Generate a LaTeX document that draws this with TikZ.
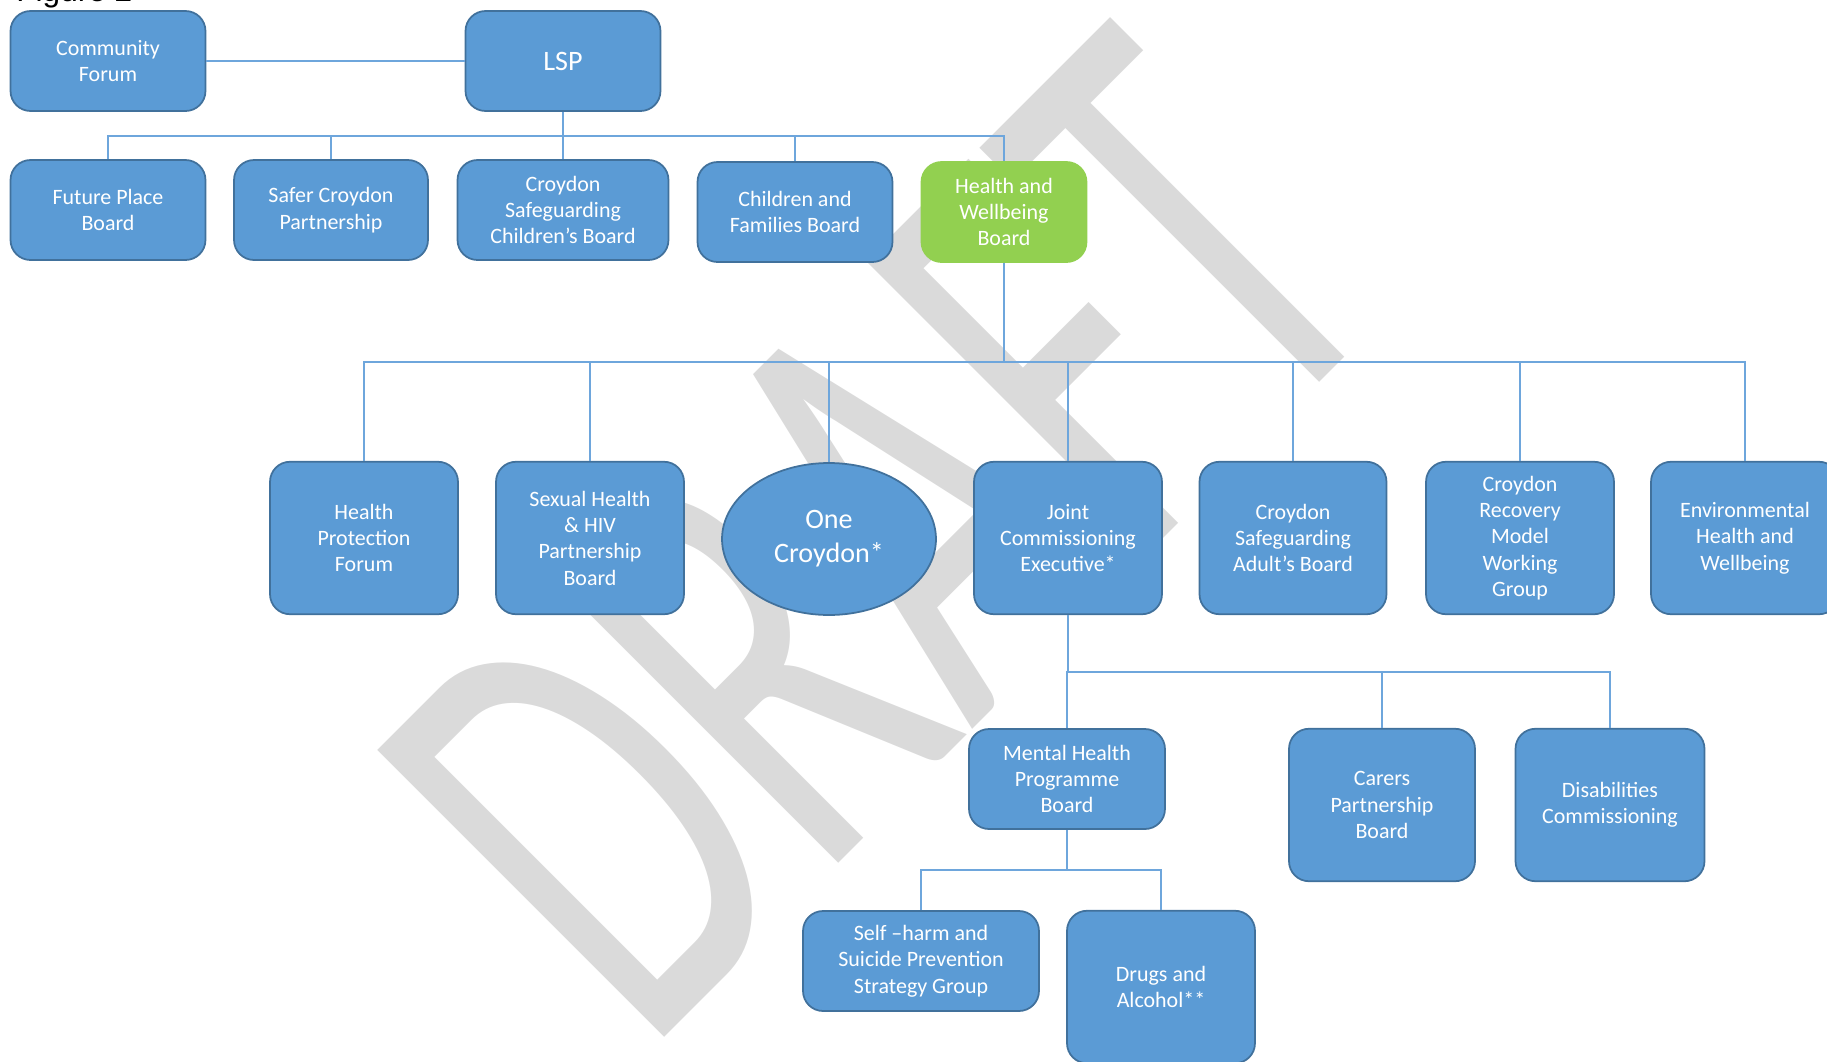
\documentclass[tikz,border=0pt]{standalone}
\usepackage{fontspec}
\setmainfont{Carlito}
\newfontfamily\figfont{Liberation Sans}
\usetikzlibrary{shapes.geometric}

\definecolor{boxblue}{RGB}{91,155,213}
\definecolor{boxedge}{RGB}{65,113,156}
\definecolor{hwbgreen}{RGB}{146,208,80}
\definecolor{linkblue}{RGB}{110,166,220}
\definecolor{wmgray}{RGB}{218,218,218}

\tikzset{board/.style={draw=boxedge,fill=boxblue,line width=1pt,rounded corners=0.4cm,
		text=white,align=center,inner sep=2pt,font=\fontsize{12.5}{15}\selectfont},
	short/.style={minimum height=2cm},
	tall/.style={minimum height=3.05cm},
	link/.style={draw=linkblue,line width=0.6pt},
	watermark/.style={text=wmgray,inner sep=0pt,font=\fontsize{360}{360}\selectfont}}

\begin{document}
\begin{tikzpicture}[x=0.02cm,y=-0.02cm]
	 \useasboundingbox (0,0) rectangle (1827,1062);
	 \node[watermark,rotate=45,xscale=0.63,anchor=base west](draft) at (645,1057){DRAFT};
	 \node[anchor=base west,inner sep=0pt,font=\figfont\fontsize{18}{20}\selectfont](figlabel) at (16,1){Figure 2};

	 \node[board,short,minimum width=3.9cm](forum) at (108,61){Community\\Forum};
	 \node[board,short,minimum width=3.9cm,font=\fontsize{16}{19}\selectfont](lsp) at (563,61){LSP};

	 \node[board,short,minimum width=3.9cm](future) at (108,210){Future Place\\Board};
	 \node[board,short,minimum width=3.88cm](safer) at (331,210){Safer Croydon\\Partnership};
	 \node[board,short,minimum width=4.22cm](cscb) at (563,210){Croydon\\Safeguarding\\Children’s Board};
	 \node[board,short,minimum width=3.9cm](families) at (795,212){Children and\\Families Board};
	 \node[board,short,minimum width=3.3cm,fill=hwbgreen,draw=hwbgreen](hwb) at (1004,212){Health and\\Wellbeing\\Board};

	 \node[board,tall,minimum width=3.76cm](hpf) at (364,538){Health\\Protection\\Forum};
	 \node[board,tall,minimum width=3.76cm](sexual) at (590,538){Sexual Health\\\& HIV\\Partnership\\Board};
	 \node[board,ellipse,minimum width=4.28cm,minimum height=3.04cm,font=\fontsize{16}{19.5}\selectfont](onecroydon) at (829,539){One\\Croydon*};
	 \node[board,tall,minimum width=3.76cm](jce) at (1068,538){Joint\\Commissioning\\Executive*};
	 \node[board,tall,minimum width=3.74cm](csab) at (1293,538){Croydon\\Safeguarding\\Adult’s Board};
	 \node[board,tall,minimum width=3.76cm](recovery) at (1520,538){Croydon\\Recovery\\Model\\Working\\Group};
	 \node[board,tall,minimum width=3.76cm](env) at (1745,538){Environmental\\Health and\\Wellbeing};

	 \node[board,short,minimum width=3.92cm](mhpb) at (1067,779){Mental Health\\Programme\\Board};
	 \node[board,tall,minimum width=3.72cm](carers) at (1382,805){Carers\\Partnership\\Board};
	 \node[board,tall,minimum width=3.78cm](disab) at (1610,805){Disabilities\\Commissioning};

	 \node[board,short,minimum width=4.72cm](selfharm) at (921,961){Self –harm and\\Suicide Prevention\\Strategy Group};
	 \node[board,tall,minimum width=3.76cm](drugs) at (1161,987){Drugs and\\Alcohol**};

	 \coordinate (top-y) at (0,136);
	 \coordinate (mid-y) at (0,362);
	 \coordinate (low-y) at (0,672);
	 \coordinate (foot-y) at (0,870);

	 \draw[link](forum) -- (lsp);
	 \foreach \n in {future,safer,cscb,families,hwb}
		 \draw[link](lsp) |- (top-y-|\n) -- (\n);
	 \foreach \n in {hpf,sexual,onecroydon,jce,csab,recovery,env}
		 \draw[link](hwb) |- (mid-y-|\n) -- (\n);
	 \foreach \n in {mhpb,carers,disab}
		 \draw[link](jce) |- (low-y-|\n) -- (\n);
	 \foreach \n in {selfharm,drugs}
		 \draw[link](mhpb) |- (foot-y-|\n) -- (\n);

\end{tikzpicture}
\end{document}
